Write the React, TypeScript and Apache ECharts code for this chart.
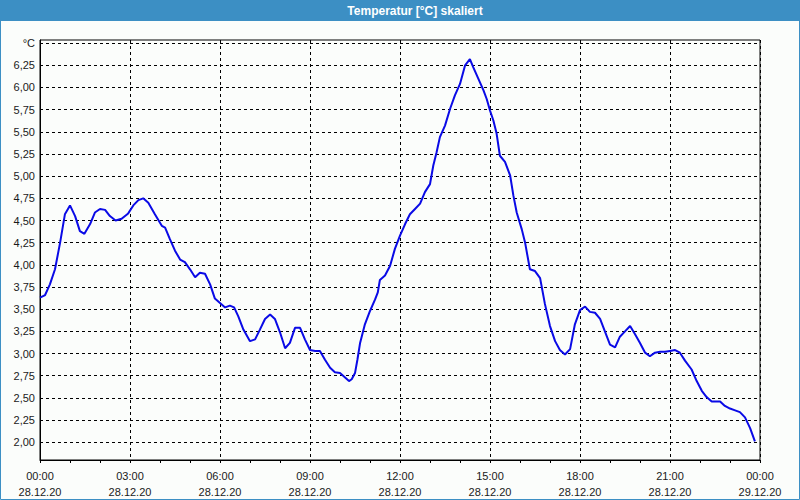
import React, { useEffect, useRef } from 'react';
import * as echarts from 'echarts';

const chartTitle = 'Temperatur [°C] skaliert';
const unitLabel = '°C';
const startDate = '28.12.20';
const endDate = '29.12.20';

// hours since 28.12.20 00:00
const hours = [
  0, 0.17, 0.33, 0.5, 0.67, 0.83, 1.0, 1.17, 1.33, 1.48, 1.67, 1.83, 2.0, 2.17, 2.33, 2.52, 2.72, 2.94,
  3.11, 3.28, 3.44, 3.61, 3.83, 4.06, 4.17, 4.33, 4.5, 4.67, 4.83, 5.0, 5.17, 5.33, 5.5, 5.67, 5.83,
  6.0, 6.17, 6.33, 6.47, 6.61, 6.78, 7.0, 7.17, 7.33, 7.5, 7.67, 7.83, 8.0, 8.17, 8.33, 8.5, 8.67,
  8.83, 9.0, 9.17, 9.33, 9.5, 9.67, 9.83, 10.0, 10.17, 10.3, 10.39, 10.5, 10.58, 10.67, 10.83, 11.0,
  11.17, 11.26, 11.33, 11.5, 11.67, 11.83, 12.0, 12.17, 12.33, 12.5, 12.67, 12.83, 13.0, 13.11, 13.22,
  13.33, 13.5, 13.67, 13.83, 14.0, 14.17, 14.33, 14.44, 14.61, 14.78, 14.89, 15.0, 15.11, 15.22, 15.33,
  15.5, 15.67, 15.78, 15.89, 16.06, 16.17, 16.33, 16.5, 16.67, 16.83, 17.0, 17.17, 17.33, 17.5, 17.67,
  17.83, 18.0, 18.17, 18.33, 18.5, 18.67, 18.83, 19.0, 19.17, 19.33, 19.5, 19.67, 19.83, 20.0, 20.17,
  20.33, 20.5, 20.67, 20.83, 21.0, 21.17, 21.33, 21.5, 21.72, 21.89, 22.06, 22.22, 22.39, 22.67, 22.83,
  23.0, 23.17, 23.33, 23.5, 23.67, 23.83,
];

const temps = [
  3.63, 3.66, 3.78, 3.95, 4.25, 4.57, 4.67, 4.55, 4.38, 4.35, 4.46, 4.59, 4.63, 4.62, 4.55, 4.5, 4.52, 4.58,
  4.67, 4.73, 4.75, 4.7, 4.57, 4.44, 4.42, 4.29, 4.16, 4.06, 4.03, 3.95, 3.86, 3.91, 3.9, 3.78, 3.62,
  3.57, 3.52, 3.54, 3.52, 3.42, 3.27, 3.14, 3.16, 3.27, 3.39, 3.44, 3.39, 3.24, 3.06, 3.12, 3.29, 3.29,
  3.16, 3.04, 3.03, 3.03, 2.93, 2.84, 2.79, 2.78, 2.73, 2.69, 2.71, 2.78, 2.93, 3.12, 3.33, 3.48,
  3.61, 3.69, 3.83, 3.88, 3.99, 4.18, 4.33, 4.46, 4.57, 4.63, 4.69, 4.82, 4.91, 5.12, 5.27,
  5.44, 5.57, 5.76, 5.91, 6.04, 6.25, 6.32, 6.23, 6.1, 5.97, 5.87, 5.74, 5.63, 5.48, 5.23,
  5.16, 5.01, 4.78, 4.59, 4.4, 4.25, 3.95, 3.93, 3.85, 3.56, 3.31, 3.14, 3.04, 2.99, 3.05,
  3.33, 3.49, 3.53, 3.47, 3.46, 3.39, 3.25, 3.1, 3.07, 3.19, 3.25, 3.31, 3.22, 3.12, 3.01,
  2.97, 3.01, 3.02, 3.02, 3.03, 3.04, 3.01, 2.92, 2.82, 2.69, 2.58, 2.51, 2.46, 2.46, 2.41,
  2.38, 2.36, 2.34, 2.28, 2.16, 2.01,
];

const yTickValues = [2, 2.25, 2.5, 2.75, 3, 3.25, 3.5, 3.75, 4, 4.25, 4.5, 4.75, 5, 5.25, 5.5, 5.75, 6, 6.25, 6.5];
const xLabelHours = [0, 3, 6, 9, 12, 15, 18, 21, 24];

const pad = (n: number) => (n < 10 ? '0' + n : '' + n);

export default function App() {
  const ref = useRef<HTMLDivElement>(null);
  useEffect(() => {
    const chart = echarts.init(ref.current!, null, { renderer: 'svg' });
    const data = hours.map((h, i) => [h, temps[i]]);
    const labelFont = {
      fontFamily: 'Liberation Sans, Arial, sans-serif',
      fontSize: 11,
      color: '#1a1a1a',
    };
    chart.setOption({
      animation: false,
      backgroundColor: '#fbfdfb',
      grid: {
        left: 40,
        right: 40,
        top: 40,
        bottom: 40,
        show: true,
        borderColor: '#000',
        borderWidth: 1,
        backgroundColor: 'transparent',
      },
      graphic: [
        {
          type: 'rect',
          shape: { x: 0, y: 0, width: 800, height: 21 },
          style: { fill: '#3c8fc4' },
          silent: true,
        },
        {
          type: 'rect',
          shape: { x: 0.5, y: 0.5, width: 799, height: 499 },
          style: { fill: 'none', stroke: '#3c8fc4', lineWidth: 1 },
          silent: true,
        },
        {
          type: 'text',
          x: 415,
          y: 11,
          style: {
            text: chartTitle,
            fill: '#ffffff',
            font: 'bold 12px "Liberation Sans", Arial, sans-serif',
            textAlign: 'center',
            textVerticalAlign: 'middle',
          },
          silent: true,
        },
      ],
      xAxis: {
        type: 'value',
        min: 0,
        max: 24,
        interval: 3,
        axisLine: { show: true, onZero: false, lineStyle: { color: '#000', width: 1 } },
        axisTick: { show: true, length: 3, lineStyle: { color: '#000' } },
        minorTick: { show: true, splitNumber: 3, length: 3, lineStyle: { color: '#000' } },
        splitLine: { show: true, lineStyle: { color: '#000', type: [3, 3], width: 1 } },
        axisLabel: {
          ...labelFont,
          margin: 8,
          lineHeight: 16,
          showMinLabel: true,
          showMaxLabel: true,
          customValues: xLabelHours,
          formatter: (v: number) => {
            const h = Math.round(v) % 24;
            const d = v >= 24 ? endDate : startDate;
            return pad(h) + ':00\n' + d;
          },
        },
      },
      yAxis: {
        type: 'value',
        min: 1.8,
        max: 6.535,
        axisLine: { show: true, onZero: false, lineStyle: { color: '#000', width: 1 } },
        axisTick: { show: false, customValues: yTickValues },
        splitLine: { show: true, lineStyle: { color: '#000', type: [3, 3], width: 1 } },
        axisLabel: {
          ...labelFont,
          margin: 5,
          customValues: yTickValues,
          formatter: (v: number) => (v >= 6.49 ? unitLabel : v.toFixed(2).replace('.', ',')),
        },
      },
      series: [
        {
          type: 'line',
          data,
          showSymbol: false,
          smooth: false,
          lineStyle: { color: '#0a0ae6', width: 2 },
          itemStyle: { color: '#0a0ae6' },
        },
      ],
    });
    return () => chart.dispose();
  }, []);
  return <div ref={ref} style={{ position: 'fixed', left: 0, top: 0, width: 800, height: 500 }} />;
}
